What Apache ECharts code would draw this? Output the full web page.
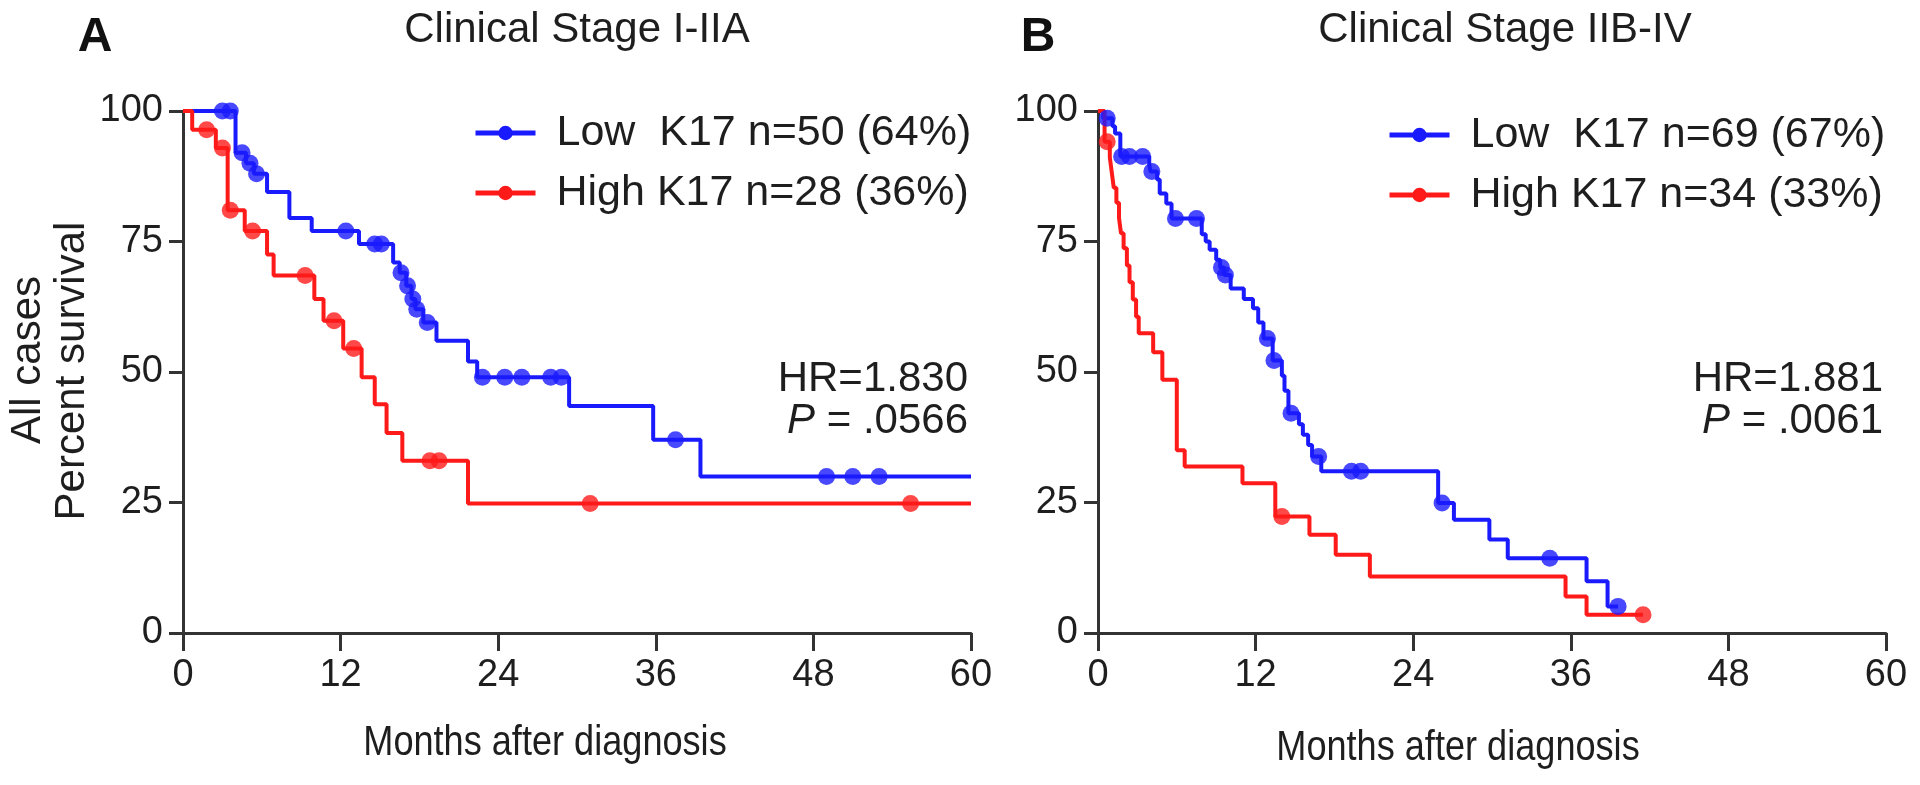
<!DOCTYPE html>
<html><head><meta charset="utf-8">
<script src="https://cdn.jsdelivr.net/npm/echarts@6/dist/echarts.min.js"></script>
<style>html,body{margin:0;padding:0;background:#fff}#c{width:1920px;height:785px}</style>
</head><body><div id="c"></div>
<script>
// ---- data ----
const xTickLabels = [0, 12, 24, 36, 48, 60];
const yTickLabels = [0, 25, 50, 75, 100];
const panelTitles = ['Clinical Stage I-IIA', 'Clinical Stage IIB-IV'];
const panelLetters = ['A', 'B'];
const seriesNamesA = ['Low  K17 n=50 (64%)', 'High K17 n=28 (36%)'];
const seriesNamesB = ['Low  K17 n=69 (67%)', 'High K17 n=34 (33%)'];
const statsA = ['HR=1.830', '.0566'];
const statsB = ['HR=1.881', '.0061'];
const yAxisTitle = ['All cases', 'Percent survival'];
const xAxisTitle = 'Months after diagnosis';

const lowA = [[0,100],[4.0,92],[4.8,90],[5.4,88],[6.4,84.5],[8.1,79.5],[9.8,77],[13.4,74.5],[16.0,71],[16.5,69],[17.0,66.5],[17.4,64],[17.7,62],[18.3,59.5],[19.3,56],[21.7,52],[22.4,49],[29.4,43.5],[35.8,37],[39.4,30],[60,30]];
const lowACens = [[3.0,100],[3.6,100],[4.5,92],[5.1,90],[5.6,88],[12.4,77],[14.6,74.5],[15.1,74.5],[16.6,69],[17.1,66.5],[17.5,64],[17.8,62],[18.6,59.5],[22.8,49],[24.5,49],[25.8,49],[28.0,49],[28.8,49],[37.5,37],[49,30],[51,30],[53,30]];
const highA = [[0,100],[0.7,96.4],[2.5,92.9],[3.4,81],[4.7,77],[6.4,72.5],[6.9,68.5],[10.0,64],[10.7,59.8],[12.2,54.5],[13.6,49],[14.6,43.8],[15.5,38.3],[16.7,33],[21.7,24.8],[60,24.8]];
const highACens = [[1.8,96.4],[3.0,92.9],[3.6,81],[5.3,77],[9.3,68.5],[11.5,59.8],[13.0,54.5],[18.8,33],[19.5,33],[31,24.8],[55.4,24.8]];

const lowB = [[0,100],[0.4,98.6],[1.1,97.1],[1.3,95.7],[1.7,91.3],[3.9,89.8],[4.0,88.4],[4.5,86.9],[4.7,84.2],[5.2,82.3],[5.6,79.4],[7.9,76.4],[8.2,75],[8.5,73.4],[9.0,71.5],[9.3,70],[9.6,68.6],[10.1,66],[11.1,64],[11.8,62.2],[12.2,59.5],[12.6,56.4],[13.3,52.2],[14.0,49.3],[14.2,46.4],[14.5,42.1],[15.3,40],[15.6,38],[16.0,36],[16.3,33.8],[17.0,31],[25.9,24.9],[27.1,21.7],[29.8,17.9],[31.2,14.3],[37.2,9.9],[38.8,5.1],[39.6,5.1]];
const lowBCens = [[0.7,98.6],[1.8,91.3],[2.4,91.3],[3.4,91.3],[4.1,88.4],[5.9,79.4],[7.5,79.4],[9.4,70],[9.7,68.6],[12.9,56.4],[13.4,52.2],[14.7,42.1],[16.8,33.8],[19.3,31],[20.0,31],[26.2,24.9],[34.4,14.3],[39.6,5.1]];
const highB = [[0,100],[0.5,94.1],[0.9,91.1],[1.05,88.2],[1.2,85.3],[1.4,82.4],[1.6,79.5],[1.75,76.6],[1.95,73.7],[2.2,70.4],[2.4,67.2],[2.65,63.9],[2.9,60.6],[3.1,57.4],[4.2,53.8],[4.9,48.5],[6.0,35],[6.6,31.9],[11.0,28.7],[13.5,22.3],[16.1,18.8],[18.1,15],[20.7,10.8],[35.6,7],[37.2,3.5],[41.5,3.5]];
const highBCens = [[0.7,94.1],[14.0,22.3],[41.5,3.5]];

// ---- styling ----
const FONT = 'Liberation Sans, Arial, sans-serif';
const TXT = '#1e1e1e';
const AX = '#333333';
const BLUE = '#1a1aff';
const RED = '#ff1a1a';

const xStep = xTickLabels[1] - xTickLabels[0];
const yStep = yTickLabels[1] - yTickLabels[0];

function xAxisCfg(gi) {
  return {
    type: 'value', gridIndex: gi,
    min: xTickLabels[0], max: xTickLabels[xTickLabels.length - 1], interval: xStep,
    axisLine: { show: true, onZero: false, lineStyle: { color: AX, width: 3 } },
    axisTick: { show: true, length: 18, lineStyle: { color: AX, width: 3 } },
    axisLabel: { fontSize: 38, fontFamily: FONT, color: TXT, margin: 24 },
    splitLine: { show: false }
  };
}
function yAxisCfg(gi) {
  return {
    type: 'value', gridIndex: gi,
    min: yTickLabels[0], max: yTickLabels[yTickLabels.length - 1], interval: yStep,
    axisLine: { show: true, onZero: false, lineStyle: { color: AX, width: 3 } },
    axisTick: { show: true, length: 14, lineStyle: { color: AX, width: 3 } },
    axisLabel: { fontSize: 38, fontFamily: FONT, color: TXT, margin: 20 },
    splitLine: { show: false }
  };
}
function lineSeries(name, data, color, gi) {
  return {
    name: name, type: 'line', step: 'end', data: data,
    xAxisIndex: gi, yAxisIndex: gi,
    showSymbol: false, symbol: 'circle', symbolSize: 18,
    lineStyle: { color: color, width: 4 }, itemStyle: { color: color },
    silent: true, animation: false
  };
}
function censSeries(data, color, gi) {
  return {
    type: 'scatter', data: data, xAxisIndex: gi, yAxisIndex: gi,
    symbol: 'circle', symbolSize: 17, itemStyle: { color: color },
    silent: true, animation: false, z: 3
  };
}
function legendCfg(names, left, top) {
  return {
    data: names, left: left, top: top, orient: 'vertical',
    itemWidth: 60, itemHeight: 18, itemGap: 16,
    selectedMode: false,
    lineStyle: { width: 5 },
    textStyle: { fontSize: 43, fontFamily: FONT, color: TXT, lineHeight: 44, padding: [0, 0, 0, 16] }
  };
}
function txt(x, y, text, opts, extra) {
  return Object.assign({
    type: 'text', x: x, y: y, silent: true,
    style: Object.assign({ text: text, font: '42px ' + FONT, fill: TXT, align: 'center', verticalAlign: 'middle' }, opts || {})
  }, extra || {});
}
function statText(x, y, val) {
  return {
    type: 'text', x: x, y: y, silent: true,
    style: {
      text: '{i|P} = ' + val, fill: TXT, align: 'right', verticalAlign: 'middle',
      fontSize: 42, fontFamily: FONT,
      rich: { i: { fontStyle: 'italic', fontSize: 42, fontFamily: FONT, fill: TXT } }
    }
  };
}

const chart = echarts.init(document.getElementById('c'), null, { renderer: 'canvas' });
chart.setOption({
  backgroundColor: '#ffffff',
  animation: false,
  grid: [
    { left: 183, top: 111, width: 788, height: 522 },
    { left: 1098, top: 111, width: 788, height: 522 }
  ],
  xAxis: [xAxisCfg(0), xAxisCfg(1)],
  yAxis: [yAxisCfg(0), yAxisCfg(1)],
  legend: [legendCfg(seriesNamesA, 468, 106), legendCfg(seriesNamesB, 1382, 108)],
  series: [
    lineSeries(seriesNamesA[0], lowA, BLUE, 0),
    lineSeries(seriesNamesA[1], highA, RED, 0),
    censSeries(lowACens, BLUE, 0),
    censSeries(highACens, RED, 0),
    lineSeries(seriesNamesB[0], lowB, BLUE, 1),
    lineSeries(seriesNamesB[1], highB, RED, 1),
    censSeries(lowBCens, BLUE, 1),
    censSeries(highBCens, RED, 1)
  ],
  graphic: [
    txt(95, 38, panelLetters[0], { font: 'bold 48px ' + FONT, fill: '#111' }),
    txt(1038, 38, panelLetters[1], { font: 'bold 48px ' + FONT, fill: '#111' }),
    txt(577, 30, panelTitles[0]),
    txt(1505, 30, panelTitles[1]),
    txt(968, 379, statsA[0], { align: 'right' }),
    statText(968, 421, statsA[1]),
    txt(1883, 379, statsB[0], { align: 'right' }),
    statText(1883, 421, statsB[1]),
    txt(545, 743, xAxisTitle, { font: '42px ' + FONT }, { scaleX: 0.86 }),
    txt(1458, 748, xAxisTitle, { font: '42px ' + FONT }, { scaleX: 0.86 }),
    txt(28, 360, yAxisTitle[0], { font: '42px ' + FONT }, { rotation: Math.PI / 2 }),
    txt(72, 371, yAxisTitle[1], { font: '42px ' + FONT }, { rotation: Math.PI / 2 })
  ]
});
</script>
</body></html>
